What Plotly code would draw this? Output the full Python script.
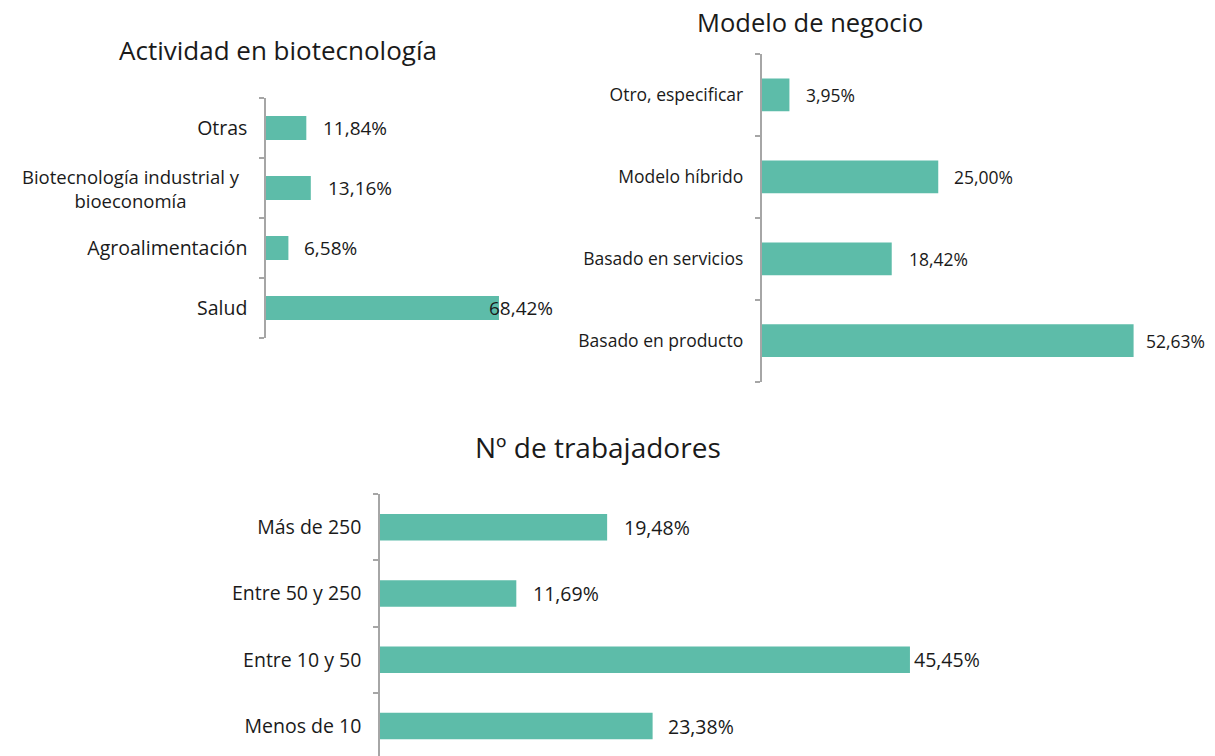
import plotly.graph_objects as go

# ---------------- data ----------------
act_categories = ["Otras", "Biotecnología industrial y bioeconomía", "Agroalimentación", "Salud"]
act_values = [11.84, 13.16, 6.58, 68.42]

mod_categories = ["Otro, especificar", "Modelo híbrido", "Basado en servicios", "Basado en producto"]
mod_values = [3.95, 25.00, 18.42, 52.63]

trab_categories = ["Más de 250", "Entre 50 y 250", "Entre 10 y 50", "Menos de 10"]
trab_values = [19.48, 11.69, 45.45, 23.38]

titles = ["Actividad en biotecnología", "Modelo de negocio", "Nº de trabajadores"]

# two-line label for the long category in the first panel
bio_label = "Biotecnología industrial y<br>bioeconomía"

# ---------------- style ----------------
BAR = "#5dbca9"
AXIS = "#a6a6a6"
TXT = "#1a1a1a"
FONT = "Open Sans"
W, H = 1215, 756

act_dx = [15, 15, 14, -12]
mod_dx = [15, 14, 15, 10]
trab_dx = [15, 15, 2, 13]


def fmt(v):
    return f"{v:.2f}".replace(".", ",") + "%"


fig = go.Figure()

panels = [
    dict(cats=act_categories, vals=act_values, dx=act_dx, xa="x", ya="y",
         xdom=[266 / W, (266 + 340.5) / W], ydom=[1 - 338 / H, 1 - 98 / H],
         xrange=[0, 100], yrange=[3.5, -0.5], fs=19.5, lfs=19),
    dict(cats=mod_categories, vals=mod_values, dx=mod_dx, xa="x2", ya="y2",
         xdom=[761.5 / W, (761.5 + 424.2) / W], ydom=[1 - 381.7 / H, 1 - 54 / H],
         xrange=[0, 60], yrange=[3.5, -0.5], fs=17.5, lfs=17.5),
    dict(cats=trab_categories, vals=trab_values, dx=trab_dx, xa="x3", ya="y3",
         xdom=[380 / W, (380 + 699.6) / W], ydom=[0, 1 - 494 / H],
         xrange=[0, 60], yrange=[3.452, -0.5], fs=19.5, lfs=19.5),
]

layout = {}
annotations = []
for i, p in enumerate(panels):
    fig.add_trace(go.Bar(
        x=p["vals"], y=p["cats"], orientation="h", width=0.4,
        marker=dict(color=BAR, line=dict(width=0)),
        xaxis=p["xa"], yaxis=p["ya"], showlegend=False, hoverinfo="skip",
    ))
    sfx = "" if i == 0 else str(i + 1)
    ticktext = ["" if c == act_categories[1] and i == 0 else c for c in p["cats"]]
    layout["xaxis" + sfx] = dict(domain=p["xdom"], range=p["xrange"], visible=False,
                                 anchor=p["ya"], fixedrange=True)
    layout["yaxis" + sfx] = dict(
        domain=p["ydom"], range=p["yrange"], anchor=p["xa"], type="category",
        tickmode="array", tickvals=p["cats"], ticktext=ticktext,
        showline=True, linecolor=AXIS, linewidth=1.5,
        ticks="outside", ticklen=5, tickcolor=AXIS, tickwidth=1.5,
        tickson="boundaries", ticklabelstandoff=13,
        showgrid=False, zeroline=False,
        tickfont=dict(family=FONT, size=p["fs"], color=TXT),
    )
    for c, v, d in zip(p["cats"], p["vals"], p["dx"]):
        annotations.append(dict(
            x=v, y=c, xref=p["xa"], yref=p["ya"], text=fmt(v), showarrow=False,
            xanchor="left", yanchor="middle", xshift=d,
            font=dict(family=FONT, size=p["lfs"], color=TXT),
        ))

# centred two-line category label (panel 1)
annotations.append(dict(
    x=0, y=act_categories[1], xref="x", yref="y", text=bio_label, showarrow=False,
    xanchor="center", yanchor="middle", align="center", xshift=-135,
    font=dict(family=FONT, size=18.5, color=TXT),
))

title_pos = [(278, 50, 26), (810, 22, 25.5), (598, 447, 28)]
for t, (tx, ty, ts) in zip(titles, title_pos):
    annotations.append(dict(
        x=tx / W, y=1 - ty / H, xref="paper", yref="paper", text=t, showarrow=False,
        xanchor="center", yanchor="middle",
        font=dict(family=FONT, size=ts, color=TXT),
    ))

fig.update_layout(
    width=W, height=H, margin=dict(l=0, r=0, t=0, b=0),
    paper_bgcolor="white", plot_bgcolor="white",
    annotations=annotations, bargap=0.6,
    **layout,
)

fig.write_html("out.html", config={"displayModeBar": False},
               post_script="document.body.style.margin='0px';document.body.style.padding='0px';")
